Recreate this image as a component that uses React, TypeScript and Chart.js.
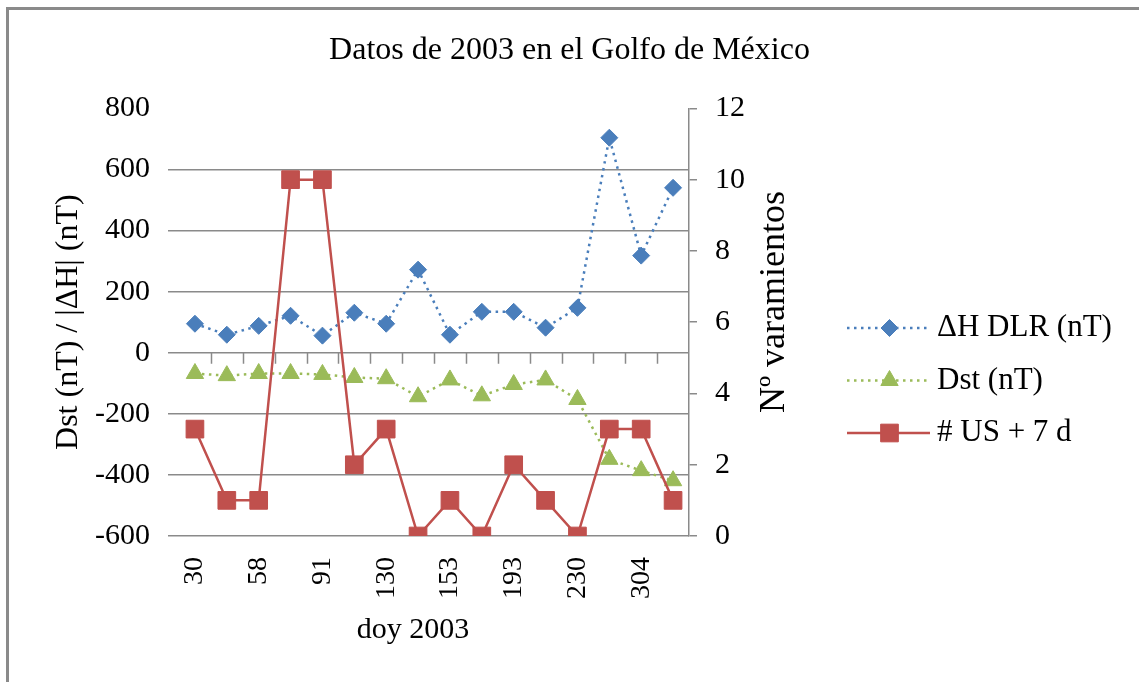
import React, { useEffect, useRef } from "react";
import { Chart, registerables } from "chart.js";

Chart.register(...registerables);

// ---------- data ----------
const chartTitle = "Datos de 2003 en el Golfo de México";
const xTitle = "doy 2003";
const leftTitle = "Dst (nT) / |ΔH| (nT)";
const rightTitle = "Nº varamientos";

const dayLabels = ["30", "44", "58", "72", "91", "110", "130", "140", "153", "170", "193", "210", "230", "265", "304", "330"];
const deltaH = [95, 59, 88, 121, 56, 131, 95, 272, 59, 134, 134, 82, 147, 704, 318, 540];
const dst = [-68, -75, -68, -68, -71, -81, -85, -144, -89, -141, -104, -89, -153, -349, -386, -419];
const strandings = [3, 1, 1, 10, 10, 2, 3, 0, 1, 0, 2, 1, 0, 3, 3, 1];

const seriesNames = ["ΔH DLR (nT)", "Dst (nT)", "# US + 7 d"];

const leftMin = -600;
const leftMax = 800;
const leftStep = 200;
const rightMin = 0;
const rightMax = 12;
const rightStep = 2;

// ---------- styles ----------
const FONT = '"Liberation Serif", "Times New Roman", serif';
const GRID = "#8a8a8a";
const BLUE = "#4A7EBB";
const GREEN = "#9BBB59";
const RED = "#C0504D";

function drawMarker(ctx: CanvasRenderingContext2D, style: string, x: number, y: number, r: number, color: string) {
  ctx.save();
  ctx.fillStyle = color;
  ctx.strokeStyle = color;
  ctx.lineWidth = 1;
  ctx.setLineDash([]);
  ctx.beginPath();
  if (style === "rectRot") {
    ctx.moveTo(x, y - r);
    ctx.lineTo(x + r, y);
    ctx.lineTo(x, y + r);
    ctx.lineTo(x - r, y);
  } else if (style === "triangle") {
    ctx.moveTo(x, y - r);
    ctx.lineTo(x + r * 0.866, y + r / 2);
    ctx.lineTo(x - r * 0.866, y + r / 2);
  } else {
    const s = r * Math.SQRT1_2;
    ctx.rect(x - s, y - s, 2 * s, 2 * s);
  }
  ctx.closePath();
  ctx.fill();
  ctx.stroke();
  ctx.restore();
}

const extrasPlugin = {
  id: "excelExtras",
  beforeDatasetsDraw(chart: any) {
    const xs = chart.scales.x;
    const ys = chart.scales.y;
    const ctx: CanvasRenderingContext2D = chart.ctx;
    const y0 = ys.getPixelForValue(0);
    ctx.save();
    ctx.strokeStyle = GRID;
    ctx.lineWidth = 1.5;
    ctx.beginPath();
    for (let i = 0; i < dayLabels.length - 1; i++) {
      const px = Math.round((xs.getPixelForValue(i) + xs.getPixelForValue(i + 1)) / 2) + 0.5;
      ctx.moveTo(px, y0);
      ctx.lineTo(px, y0 + 11);
    }
    ctx.stroke();
    ctx.restore();
  },
  afterDraw(chart: any) {
    const ctx: CanvasRenderingContext2D = chart.ctx;
    const area = chart.chartArea;
    ctx.save();
    ctx.fillStyle = "#000";

    // x axis title
    ctx.font = `30px ${FONT}`;
    ctx.textAlign = "center";
    ctx.textBaseline = "alphabetic";
    ctx.fillText(xTitle, (area.left + area.right) / 2 - 21, 638);

    // right axis title (reads bottom to top)
    ctx.save();
    ctx.translate(775, 302);
    ctx.rotate(-Math.PI / 2);
    ctx.font = `36px ${FONT}`;
    ctx.textAlign = "center";
    ctx.textBaseline = "middle";
    ctx.fillText(rightTitle, 0, 0);
    ctx.restore();

    // legend
    const lx0 = 847;
    const lx1 = 930;
    const ly0 = 328;
    const row = 52.5;
    chart.data.datasets.forEach((ds: any, i: number) => {
      const y = ly0 + i * row;
      ctx.save();
      ctx.strokeStyle = ds.borderColor;
      ctx.lineWidth = ds.borderWidth;
      ctx.setLineDash(ds.borderDash || []);
      ctx.beginPath();
      ctx.moveTo(lx0, y);
      ctx.lineTo(lx1, y);
      ctx.stroke();
      ctx.restore();
      drawMarker(ctx, ds.pointStyle, (lx0 + lx1) / 2 + 1, y, ds.pointRadius, ds.pointBackgroundColor);
      ctx.font = `31px ${FONT}`;
      ctx.fillStyle = "#000";
      ctx.textAlign = "left";
      ctx.textBaseline = "middle";
      ctx.fillText(ds.label, 937, y);
    });
    ctx.restore();
  },
};

export default function App() {
  const canvasRef = useRef<HTMLCanvasElement | null>(null);

  useEffect(() => {
    if (!canvasRef.current) return;
    Chart.defaults.font.family = FONT;
    Chart.defaults.color = "#000";

    const chart = new Chart(canvasRef.current, {
      type: "line",
      data: {
        labels: dayLabels,
        datasets: [
          {
            label: seriesNames[0],
            data: deltaH,
            yAxisID: "y",
            borderColor: BLUE,
            backgroundColor: BLUE,
            borderWidth: 2.5,
            borderDash: [2.5, 4.5],
            pointStyle: "rectRot",
            pointRadius: 8.5,
            pointBackgroundColor: BLUE,
            pointBorderColor: BLUE,
            pointBorderWidth: 1,
            tension: 0,
            order: 2,
          },
          {
            label: seriesNames[1],
            data: dst,
            yAxisID: "y",
            borderColor: GREEN,
            backgroundColor: GREEN,
            borderWidth: 2.5,
            borderDash: [2.5, 4.5],
            pointStyle: "triangle",
            pointRadius: 10,
            pointBackgroundColor: GREEN,
            pointBorderColor: GREEN,
            pointBorderWidth: 1,
            tension: 0,
            order: 3,
          },
          {
            label: seriesNames[2],
            data: strandings,
            yAxisID: "y1",
            borderColor: RED,
            backgroundColor: RED,
            borderWidth: 2.5,
            pointStyle: "rect",
            pointRadius: 12.5,
            pointBackgroundColor: RED,
            pointBorderColor: RED,
            pointBorderWidth: 1,
            tension: 0,
            order: 1,
          },
        ],
      },
      options: {
        responsive: false,
        animation: false,
        layout: { padding: 0 },
        plugins: {
          legend: { display: false },
          tooltip: { enabled: false },
          title: {
            display: true,
            text: chartTitle,
            color: "#000",
            font: { family: FONT, size: 32, weight: "normal" },
            padding: { top: 31, bottom: 39 },
          },
        },
        scales: {
          x: {
            type: "category",
            offset: true,
            grid: { display: false, drawTicks: false },
            border: { display: false },
            ticks: {
              autoSkip: false,
              minRotation: 90,
              maxRotation: 90,
              padding: 21,
              color: "#000",
              font: { family: FONT, size: 28 },
              callback: (_v: any, i: number) => (i % 2 === 0 ? dayLabels[i] : ""),
            },
            afterFit: (scale: any) => {
              scale.height = 146;
            },
          },
          y: {
            position: "left",
            min: leftMin,
            max: leftMax,
            border: { display: false },
            grid: {
              color: (c: any) => (c.tick && c.tick.value === leftMax ? "rgba(0,0,0,0)" : GRID),
              lineWidth: 1.5,
              drawTicks: true,
              tickLength: 11,
            },
            ticks: {
              stepSize: leftStep,
              padding: 18,
              color: "#000",
              font: { family: FONT, size: 30 },
            },
            title: {
              display: true,
              text: leftTitle,
              color: "#000",
              font: { family: FONT, size: 32 },
              padding: { top: 49, bottom: 0 },
            },
            afterFit: (scale: any) => {
              scale.width = 179;
            },
          },
          y1: {
            position: "right",
            min: rightMin,
            max: rightMax,
            border: { display: true, color: GRID, width: 1.5 },
            grid: {
              drawOnChartArea: false,
              drawTicks: true,
              tickLength: 8,
              color: GRID,
              lineWidth: 1.5,
            },
            ticks: {
              stepSize: rightStep,
              padding: 18,
              color: "#000",
              font: { family: FONT, size: 30 },
            },
            afterFit: (scale: any) => {
              scale.width = 450;
            },
          },
        },
      },
      plugins: [extrasPlugin],
    } as any);

    return () => chart.destroy();
  }, []);

  return (
    <div style={{ position: "absolute", left: 0, top: 0, width: 1139, height: 682, background: "#fff", overflow: "hidden" }}>
      <div
        style={{
          position: "absolute",
          left: 6,
          top: 7,
          width: 1139 - 6,
          height: 682 - 7,
          borderTop: `3px solid ${GRID}`,
          borderLeft: `3px solid ${GRID}`,
          boxSizing: "border-box",
        }}
      />
      <canvas ref={canvasRef} width={1139} height={682} style={{ position: "absolute", left: 0, top: 0 }} />
    </div>
  );
}
